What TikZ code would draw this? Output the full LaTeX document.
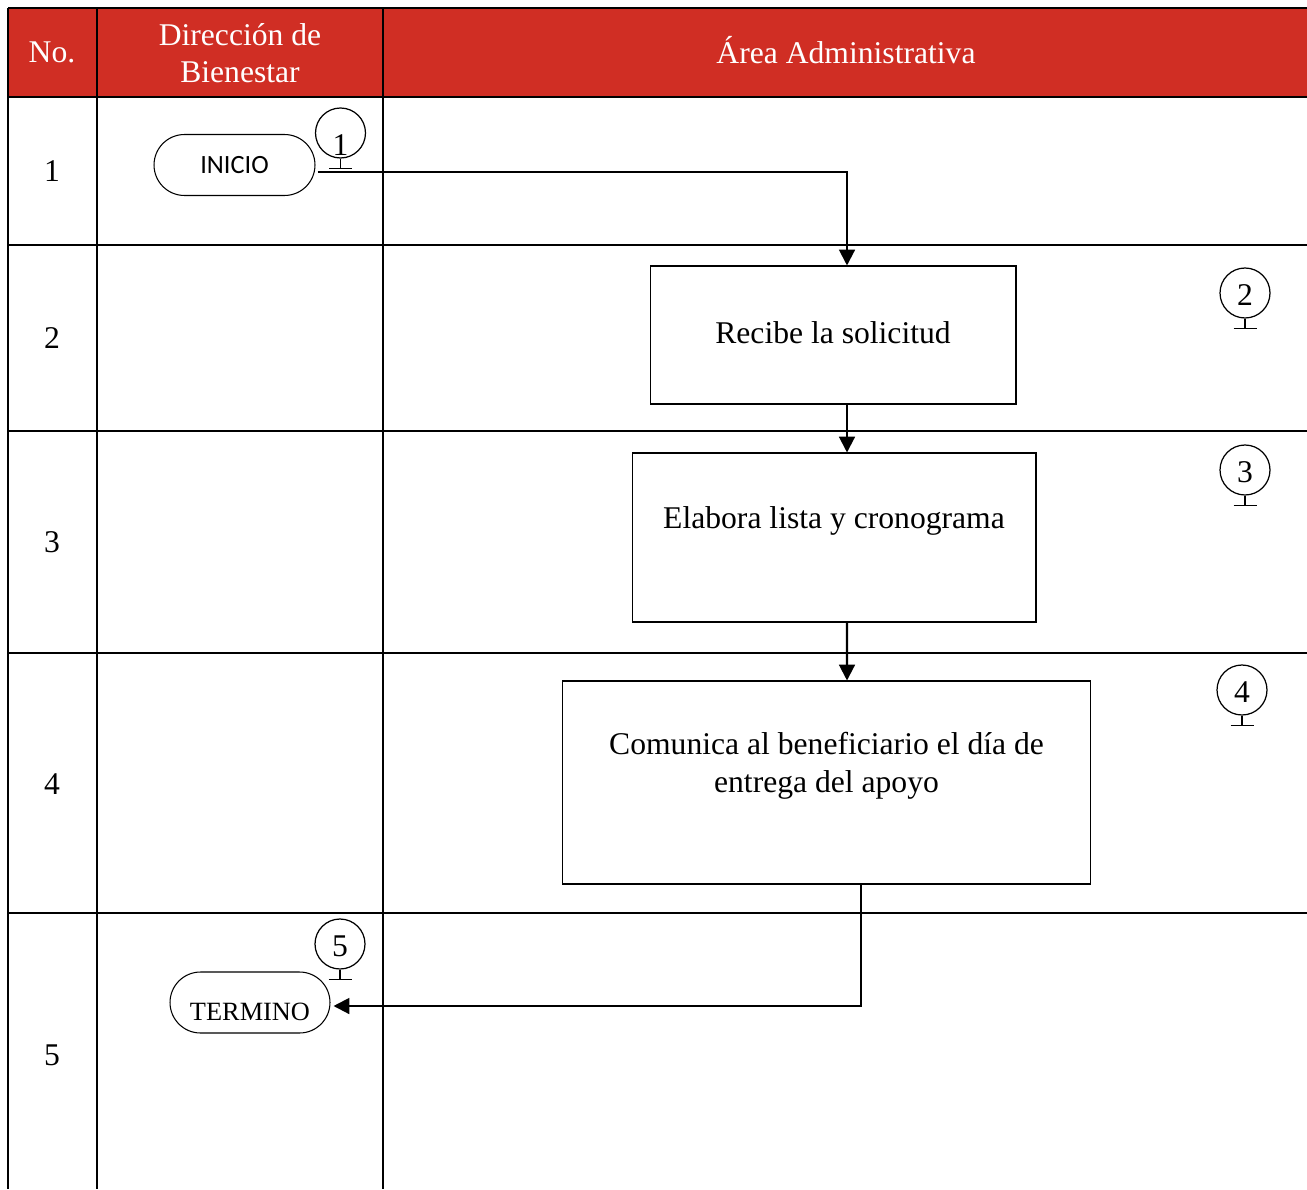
\documentclass[tikz,border=0pt]{standalone}
\usepackage{fontspec}
\setmainfont{Liberation Serif}
\newfontfamily\inifont{Carlito}
\usetikzlibrary{arrows.meta,calc,positioning,shapes.misc}

\definecolor{hdrred}{RGB}{208,46,36}

\tikzset{
	grid line/.style={line width=1.1pt},
	hdr/.style={text=white, font=\fontsize{18}{21}\selectfont, align=center},
	rownum/.style={font=\fontsize{18}{21}\selectfont},
	procbox/.style={draw, line width=0.6pt, inner sep=0pt},
	proctext/.style={font=\fontsize{18}{21.5}\selectfont, align=center},
	terminal/.style={draw, line width=0.6pt, rounded rectangle, inner sep=0pt,
		minimum height=1.22cm},
	marker/.style={draw, circle, line width=0.7pt, inner sep=0pt, minimum size=1cm,
		font=\fontsize{18}{21}\selectfont},
	flow/.style={line width=1.2pt, -{Triangle[length=9pt,width=9pt]}},
}

\begin{document}
\begin{tikzpicture}[x=0.02cm, y=-0.02cm]

	% ---- parameters

	\def\tableright{1307}
	\def\tablebottom{1189}

	\useasboundingbox (0,0) rectangle (\tableright,\tablebottom);

	% ---- table

	\fill[hdrred] (8,8) rectangle (\tableright,97);
	\foreach \y in {8,97,245,431,653,913} {
		\draw[grid line] (8,\y) -- (\tableright,\y);
	}
	\foreach \x in {8,97,383} {
		\draw[grid line] (\x,8) -- (\x,\tablebottom);
	}

	% header
	\node[hdr] (hno)  at (52,52)  {No.};
	\node[hdr] (hdir) at (240,53) {Dirección de\\Bienestar};
	\node[hdr] (hadm) at (846,50) {Área Administrativa};

	% row numbers
	\foreach \n/\y in {1/171,2/338,3/542,4/784,5/1055} {
		\node[rownum] (row\n) at (52,\y) {\n};
	}

	% ---- flow

	\node[terminal, minimum width=3.22cm, font=\inifont\fontsize{15}{18}\selectfont]
		(inicio) at (234.5,165) {INICIO};

	\node[procbox, minimum width=7.32cm, minimum height=2.76cm] (recibe) at (833,335) {};
	\node[proctext] (recibe-txt) at (833,333) {Recibe la solicitud};

	\node[procbox, minimum width=8.08cm, minimum height=3.38cm] (elabora) at (834,537.5) {};
	\node[proctext] (elabora-txt) at (834,521) {Elabora lista y cronograma};

	\node[procbox, minimum width=10.58cm, minimum height=4.06cm] (comunica) at (826.5,782.5) {};
	\node[proctext] (comunica-txt) at (826.5,766) {Comunica al beneficiario el día de\\entrega del apoyo};

	\node[terminal, minimum width=3.2cm, font=\fontsize{15}{18}\selectfont]
		(termino) at (250,1002.5) {\raisebox{-10pt}[0pt][0pt]{TERMINO}};

	% connectors
	\draw[flow] ($(inicio.east)+(2,7)$) -| ($(recibe.north)+(14,0)$);
	\draw[flow] ($(recibe.south)+(14,0)$) -- ($(elabora.north)+(13,0)$);
	\draw[flow] ($(elabora.south)+(13,0)$) -- ($(comunica.north)+(20.5,0)$);
	\draw[flow] ($(comunica.south)+(34.5,0)$) |- ($(termino.east)+(3,3.5)$);

	% step markers (\dy = baseline of the number below the circle centre)
	\foreach \n/\px/\py/\dy in {1/340.5/133/-13pt, 2/1245/293/-7pt, 3/1245/470/-7pt,
		4/1242/690/-7pt, 5/340/944/-7pt} {
		\node[marker] (m\n) at (\px,\py) {\raisebox{\dy}[0pt][0pt]{\n}};
		\draw[line width=0.7pt] (m\n.south) -- ++(0,10);
		\draw[line width=0.9pt] ($(m\n.south)+(-11.5,10)$) -- ++(23,0);
	}

\end{tikzpicture}
\end{document}
